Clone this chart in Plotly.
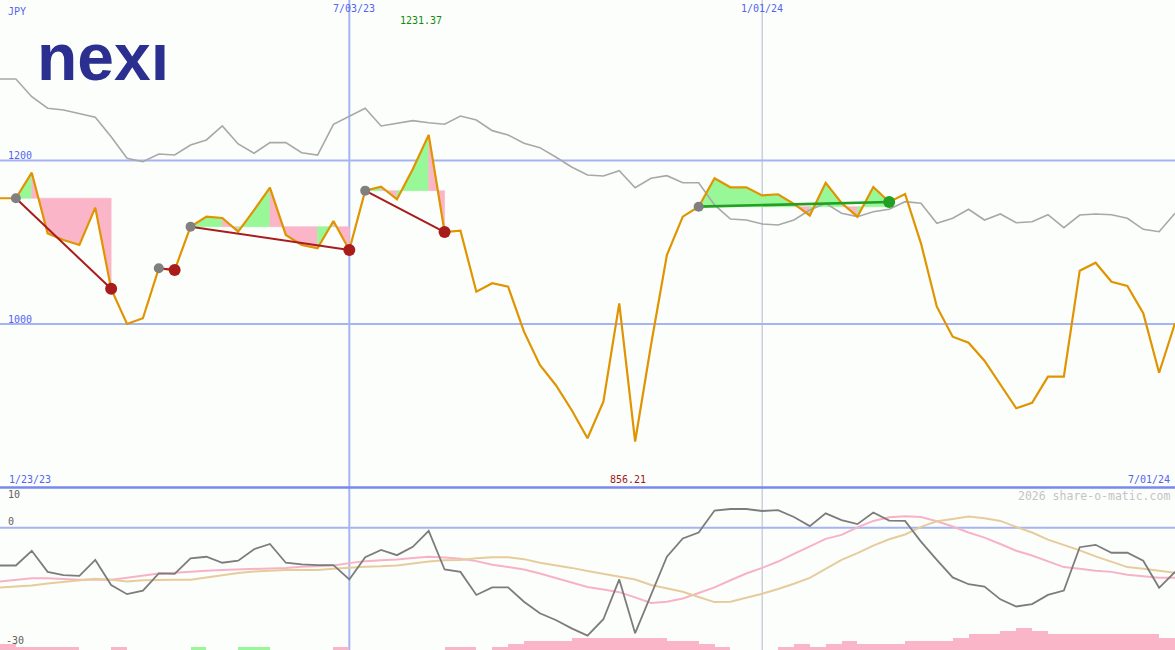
import plotly.graph_objects as go

# ---------------- data (weekly) ----------------
week_index = list(range(75))

price = [1153.8, 1153.8, 1185.1, 1110.9, 1102.8, 1096.6, 1142.3, 1043.0, 1000.0, 1007.0,
         1068.1, 1066.0, 1119.0, 1131.3, 1129.7, 1112.9, 1139.4, 1166.7, 1108.9, 1096.6,
         1092.6, 1126.0, 1090.5, 1163.1, 1168.0, 1152.5, 1189.6, 1231.37, 1112.5, 1114.1,
         1039.5, 1049.8, 1045.6, 990.6, 949.8, 925.4, 894.8, 860.2, 905.0, 1025.3,
         856.21, 974.3, 1084.4, 1131.3, 1143.5, 1178.2, 1167.2, 1167.2, 1157.2, 1158.7,
         1146.8, 1132.7, 1172.8, 1148.0, 1131.3, 1167.6, 1149.2, 1159.0, 1098.7, 1021.2,
         984.5, 977.1, 955.1, 925.4, 896.9, 903.7, 935.5, 935.5, 1065.2, 1075.0,
         1051.7, 1046.5, 1013.1, 940.4, 1000.9]

compare = [1299.7, 1299.7, 1278.0, 1263.9, 1261.8, 1257.7, 1252.8, 1229.1, 1202.7, 1198.5,
           1208.0, 1206.7, 1219.0, 1225.1, 1242.2, 1220.2, 1208.8, 1221.8, 1221.8, 1209.5,
           1206.7, 1244.3, 1254.4, 1263.9, 1242.2, 1245.5, 1248.7, 1246.2, 1244.3, 1254.4,
           1249.5, 1236.5, 1231.2, 1221.0, 1215.7, 1204.3, 1192.0, 1182.3, 1181.0, 1187.5,
           1166.7, 1178.2, 1181.4, 1172.8, 1172.8, 1145.6, 1128.4, 1127.2, 1122.3, 1121.1,
           1127.2, 1139.4, 1147.6, 1135.4, 1131.3, 1137.4, 1140.3, 1149.6, 1147.6, 1123.2,
           1129.3, 1140.3, 1127.2, 1134.6, 1123.9, 1125.1, 1133.7, 1117.8, 1133.3, 1134.6,
           1133.7, 1129.3, 1115.8, 1112.9, 1135.4]

osc = [-9.5, -9.5, -5.8, -11.1, -11.9, -12.1, -8.1, -14.4, -16.7, -15.8,
       -11.5, -11.6, -7.7, -7.3, -8.8, -8.3, -5.4, -4.1, -8.8, -9.2,
       -9.4, -9.4, -13.0, -7.4, -5.6, -6.9, -4.8, -0.8, -10.5, -11.1,
       -16.9, -15.0, -15.0, -18.6, -21.5, -23.2, -25.3, -27.1, -23.0, -13.0,
       -26.5, -16.9, -7.3, -2.7, -1.2, 4.3, 4.7, 4.7, 4.2, 4.4,
       2.7, 0.4, 3.6, 1.9, 0.9, 3.8, 1.8, 1.7, -3.5, -8.1,
       -12.5, -14.2, -14.8, -18.0, -19.8, -19.2, -16.9, -15.8, -4.9, -4.3,
       -6.3, -6.3, -8.3, -15.1, -11.1]

osc_fast = [-13.5, -13.1, -12.7, -12.7, -12.9, -13.1, -13.1, -13.1, -12.6, -12.0,
            -11.5, -11.3, -11.0, -10.8, -10.6, -10.5, -10.4, -10.3, -10.1, -9.8,
            -9.7, -9.5, -8.9, -8.4, -8.2, -8.0, -7.6, -7.3, -7.5, -7.8,
            -8.4, -9.3, -9.9, -10.5, -11.5, -12.6, -13.7, -14.9, -15.5, -16.2,
            -17.5, -18.9, -18.6, -17.8, -16.4, -15.0, -13.2, -11.5, -10.1, -8.5,
            -6.6, -4.7, -2.8, -1.8, 0.1, 1.7, 2.6, 2.9, 2.7, 1.6,
            0.3, -1.2, -2.5, -4.1, -5.8, -7.0, -8.4, -9.9, -10.3, -10.8,
            -11.1, -11.8, -12.2, -12.6, -12.6]

osc_slow = [-15.0, -14.8, -14.5, -14.0, -13.6, -13.2, -12.8, -13.1, -13.5, -13.2,
            -13.1, -13.1, -13.1, -12.5, -12.0, -11.4, -11.0, -10.8, -10.6, -10.6,
            -10.6, -10.3, -10.0, -9.8, -9.7, -9.5, -9.0, -8.5, -8.2, -8.1,
            -7.7, -7.4, -7.4, -7.9, -8.8, -9.4, -10.1, -10.9, -11.6, -12.4,
            -13.0, -14.4, -15.3, -16.1, -17.4, -18.7, -18.6, -17.6, -16.6, -15.4,
            -14.1, -12.6, -10.3, -8.1, -6.4, -4.5, -2.9, -1.7, 0.2, 1.6,
            2.2, 2.8, 2.4, 1.7, 0.2, -1.2, -3.0, -4.3, -5.7, -7.2,
            -8.6, -9.9, -10.3, -10.8, -11.3]

# signed histogram levels: positive = green, negative = pink
bar_vals = [-2, -1, -1, -1, -1, 0, 0, -1, 0, 0,
            0, 0, 1, 0, 0, 1, 1, 0, 0, 0,
            0, -1, 0, 0, 0, 0, 0, 0, -1, -1,
            0, -1, -2, -3, -3, -3, -4, -4, -4, -4,
            -4, -4, -3, -3, -2, -1, 0, 0, 0, -1,
            -2, -1, -2, -3, -2, -2, -2, -3, -3, -3,
            -4, -5, -5, -6, -7, -6, -5, -5, -5, -5,
            -5, -5, -5, -4, 0]

trend_start = [1, 10, 12, 23, 44]
trend_end = [7, 11, 22, 28, 56]

grid_pos = [22, 48]
grid_labels = ["7/03/23", "1/01/24"]
start_label = "1/23/23"
end_label = "7/01/24"
price_ticks = [1200, 1000]
osc_ticks = [10, 0, -30]
currency = "JPY"
credit = "2026 share-o-matic.com"
logo_text = "nex\u0131"

# ---------------- styling ----------------
W, H = 1175, 650
SPLIT = 1 - 487.5 / H
BG = "#fcfefc"
BLUE_TXT = "#5464f0"
GRID = "#a6b4f2"
ORANGE = "#e09400"
GREEN_FILL = "#98f898"
PINK_FILL = "#fab6c8"
RED = "#a81c1c"
GREEN = "#22a022"
MONO = "DejaVu Sans Mono"

fig = go.Figure()

# ----- weekly fills between price and the level at the start of each trend -----
# each week is coloured by where its closing price sits against the start level;
# consecutive weeks of the same colour are merged into one polygon
for s, e in zip(trend_start, trend_end):
    L = price[s]
    groups = []
    for k in range(s, e):
        a, b = price[k], price[k + 1]
        if a == L and b == L:
            continue
        col = GREEN_FILL if b > L else PINK_FILL
        if groups and groups[-1][0] == col and groups[-1][2] == k:
            groups[-1][2] = k + 1
        else:
            groups.append([col, k, k + 1])
    for col, ka, kb in groups:
        xs = [week_index[ka]] + [week_index[j] for j in range(ka, kb + 1)] + [week_index[kb], week_index[ka]]
        ys = [L] + [price[j] for j in range(ka, kb + 1)] + [L, L]
        fig.add_trace(go.Scatter(x=xs, y=ys, mode="lines", fill="toself", fillcolor=col,
                                 line=dict(width=0.6, color=col), hoverinfo="skip",
                                 showlegend=False, xaxis="x", yaxis="y"))

# comparison line
fig.add_trace(go.Scatter(x=week_index, y=compare, mode="lines",
                         line=dict(color="#a8a8a8", width=1.6), showlegend=False,
                         xaxis="x", yaxis="y"))
# price
fig.add_trace(go.Scatter(x=week_index, y=price, mode="lines",
                         line=dict(color=ORANGE, width=2.2), showlegend=False,
                         xaxis="x", yaxis="y"))
# trend lines and markers
for s, e in zip(trend_start, trend_end):
    col = GREEN if price[e] >= price[s] else RED
    fig.add_trace(go.Scatter(x=[week_index[s], week_index[e]], y=[price[s], price[e]],
                             mode="lines", line=dict(color=col, width=2 if col == RED else 2.6),
                             showlegend=False, xaxis="x", yaxis="y"))
for s, e in zip(trend_start, trend_end):
    col = GREEN if price[e] >= price[s] else RED
    fig.add_trace(go.Scatter(x=[week_index[s]], y=[price[s]], mode="markers",
                             marker=dict(color="#808080", size=10, line=dict(width=0)),
                             showlegend=False, xaxis="x", yaxis="y"))
    fig.add_trace(go.Scatter(x=[week_index[e]], y=[price[e]], mode="markers",
                             marker=dict(color=col, size=12, line=dict(width=0)),
                             showlegend=False, xaxis="x", yaxis="y"))

# ----- lower panel -----
fig.add_trace(go.Bar(x=week_index, y=[abs(v) for v in bar_vals], offset=0, width=1,
                     marker=dict(color=[GREEN_FILL if v > 0 else PINK_FILL for v in bar_vals],
                                 line=dict(width=0)),
                     showlegend=False, xaxis="x2", yaxis="y3"))
fig.add_trace(go.Scatter(x=week_index, y=osc_fast, mode="lines",
                         line=dict(color="#f8b2c8", width=2), showlegend=False,
                         xaxis="x2", yaxis="y2"))
fig.add_trace(go.Scatter(x=week_index, y=osc_slow, mode="lines",
                         line=dict(color="#e6cc9c", width=2), showlegend=False,
                         xaxis="x2", yaxis="y2"))
fig.add_trace(go.Scatter(x=week_index, y=osc, mode="lines",
                         line=dict(color="#7c7c7c", width=1.8), showlegend=False,
                         xaxis="x2", yaxis="y2"))

# ----- grid lines -----
shapes = []
shapes.append(dict(type="line", xref="x", yref="paper", x0=grid_pos[0], x1=grid_pos[0],
                   y0=0, y1=1, line=dict(color=GRID, width=2), layer="below"))
shapes.append(dict(type="line", xref="x", yref="paper", x0=grid_pos[1], x1=grid_pos[1],
                   y0=0, y1=1, line=dict(color="#b4b8cc", width=1), layer="below"))
for v in price_ticks:
    shapes.append(dict(type="line", xref="paper", yref="y", x0=0, x1=1, y0=v, y1=v,
                       line=dict(color=GRID, width=2), layer="below"))
shapes.append(dict(type="line", xref="paper", yref="y2", x0=0, x1=1, y0=0, y1=0,
                   line=dict(color=GRID, width=2), layer="below"))
shapes.append(dict(type="line", xref="paper", yref="paper", x0=0, x1=1, y0=SPLIT, y1=SPLIT,
                   line=dict(color="#7888ec", width=2.5), layer="below"))

# ----- text -----
ann = []
def txt(text, x, y, color, size=10, xa="left", ya="middle", xref="paper", yref="paper",
        xshift=0, yshift=0, family=MONO):
    ann.append(dict(text=text, x=x, y=y, xref=xref, yref=yref, xanchor=xa, yanchor=ya,
                    showarrow=False, xshift=xshift, yshift=yshift,
                    font=dict(family=family, size=size, color=color)))

txt(currency, 6 / W, 1 - 12 / H, BLUE_TXT)
for v in price_ticks:
    txt(str(v), 6 / W, v, BLUE_TXT, yref="y", ya="bottom", yshift=-3)
for pos, lab in zip(grid_pos, grid_labels):
    txt(lab, pos, 1 - 1 / H, BLUE_TXT, xa="center", ya="top", xref="x",
        xshift=5 if pos == grid_pos[0] else 0)
kmax = price.index(max(price))
kmin = price.index(min(price))
txt(f"{max(price):.2f}", kmax, 1 - 21 / H, "#128a12", xa="center", xref="x", xshift=-8)
txt(f"{min(price):.2f}", kmin, 1 - 479 / H, "#a01818", xa="center", xref="x", xshift=-7)
txt(start_label, 7 / W, 1 - 479 / H, BLUE_TXT)
txt(end_label, 1172 / W, 1 - 479 / H, BLUE_TXT, xa="right")
for v in osc_ticks:
    txt(str(v), (4 if v < 0 else 6) / W, v, "#606060", yref="y2",
        ya="top" if v == max(osc_ticks) else "bottom", yshift=1 if v == max(osc_ticks) else -1)
txt(credit, 1172 / W, 1 - 496 / H, "#c4c4c4", size=11.5, xa="right")
ann.append(dict(text=f"<b>{logo_text}</b>", x=35 / W, y=1 - 57 / H, xref="paper", yref="paper",
                xanchor="left", yanchor="middle", showarrow=False,
                font=dict(family="Liberation Sans", size=66, color="#2b2f90")))

fig.update_layout(
    width=W, height=H, margin=dict(l=0, r=0, t=0, b=0),
    paper_bgcolor=BG, plot_bgcolor=BG, showlegend=False, bargap=0,
    shapes=shapes, annotations=ann,
    xaxis=dict(domain=[0, 1], range=[0, 74], visible=False, anchor="y", fixedrange=True),
    xaxis2=dict(domain=[0, 1], range=[0, 74], visible=False, anchor="y2", matches="x"),
    yaxis=dict(domain=[SPLIT, 1], range=[800.0, 1396.3], visible=False),
    yaxis2=dict(domain=[0, SPLIT], range=[-30.73, 10.1], visible=False),
    yaxis3=dict(domain=[0, SPLIT], range=[0, 50], visible=False, overlaying="y2"),
)

fig.write_html("out.html", config={"displayModeBar": False},
               post_script="document.body.style.margin='0';document.body.style.overflow='hidden';")
